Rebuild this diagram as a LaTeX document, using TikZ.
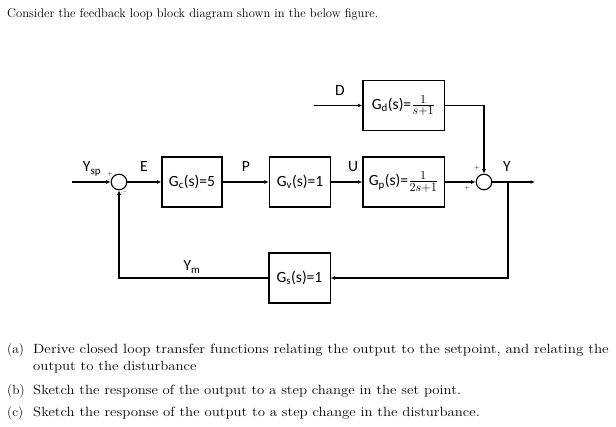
\documentclass[tikz,border=0pt]{standalone}
\usepackage{amsmath}
\usepackage{graphicx}
\usepackage{fontspec}
\newfontfamily\blockfont{Carlito}
\usetikzlibrary{arrows.meta}
% stretch a line of text to a given width, height kept
\newcommand{\fitline}[2]{\resizebox{#1}{\height}{#2}}
\newcommand{\tf}[1]{{\fontsize{15.5}{16}\selectfont$\frac{1}{#1}$}}

\begin{document}
\begin{tikzpicture}[x=0.9pt, y=-0.9pt,
        blk/.style={draw, line width=1pt, minimum height=45pt, inner sep=1pt, font={\blockfont\fontsize{14}{16}\selectfont}},
        sumj/.style={draw, circle, line width=1pt, minimum size=14pt, inner sep=0pt},
        sig/.style={font={\blockfont\fontsize{14}{16}\selectfont}, inner sep=0pt},
        sgn/.style={font=\tiny, inner sep=0pt},
        wire/.style={line width=1pt, -{Latex[length=4pt, width=3.5pt]}},
        txt/.style={anchor=base west, inner sep=0pt, font={\fontsize{11.3}{14}\selectfont}},
        qtxt/.style={txt, font={\fontsize{12}{14}\selectfont}}]
        \useasboundingbox (0,0) rectangle (616,427);

        % question text
        \node[txt] (title) at (7,18) {Consider the feedback loop block diagram shown in the below figure.};

        % blocks
        \node[blk, minimum width=54pt] (gc) at (192,182) {G\textsubscript{c}(s)=5};
        \node[blk, minimum width=55pt] (gv) at (300,182) {G\textsubscript{v}(s)=1};
        \node[blk, minimum width=73pt] (gp) at (403.5,182) {G\textsubscript{p}(s)=\tf{2s+1}};
        \node[blk, minimum width=73pt] (gd) at (403.5,105.5) {G\textsubscript{d}(s)=\tf{s+1}};
        \node[blk, minimum width=55pt] (gs) at (299.5,278) {G\textsubscript{s}(s)=1};
        \node[sumj] (s1) at (119,182) {};
        \node[sumj] (s2) at (484,182) {};

        \coordinate (ysp) at (72,182);
        \coordinate (din) at (314,105.5);
        \coordinate (yout) at (535,182);
        \coordinate (br) at (508,182);

        % connectors
        \draw[wire] (ysp) -- (s1);
        \draw[wire] (s1) -- (gc);
        \draw[wire] (gc) -- (gv);
        \draw[wire] (gv) -- (gp);
        \draw[wire] (gp) -- (s2);
        \draw[wire] (din) -- (gd);
        \draw[wire] (gd) -| (s2);
        \draw[wire] (s2) -- (yout);
        \draw[wire] (br) |- (gs);
        \draw[wire] (gs) -| (s1);

        % signal names
        \node[sig] (lysp) at (92,169) {Y\textsubscript{sp}};
        \node[sig] (le) at (144,167) {E};
        \node[sig] (lp) at (246,167) {P};
        \node[sig] (lu) at (353,167) {U};
        \node[sig] (ld) at (340,91) {D};
        \node[sig] (ly) at (507,167) {Y};
        \node[sig] (lym) at (192,267) {Y\textsubscript{m}};

        % signs
        \node[sgn] (p1) at (110,174) {+};
        \node[sgn] (m1) at (125,193) {-};
        \node[sgn] (p2) at (477,168) {+};
        \node[sgn] (p3) at (467,188) {+};

        % questions
        \node[qtxt] (la) at (7,354) {(a)};
        \node[qtxt] (ta) at (33,354) {\fitline{518pt}{Derive closed loop transfer functions relating the output to the setpoint, and relating the}};
        \node[qtxt] (ta2) at (33,371) {\fitline{147pt}{output to the disturbance}};
        \node[qtxt] (lb) at (7,395) {(b)};
        \node[qtxt] (tb) at (33,395) {\fitline{385pt}{Sketch the response of the output to a step change in the set point.}};
        \node[qtxt] (lc) at (7,417) {(c)};
        \node[qtxt] (tc) at (33,417) {\fitline{402pt}{Sketch the response of the output to a step change in the disturbance.}};
\end{tikzpicture}
\end{document}
